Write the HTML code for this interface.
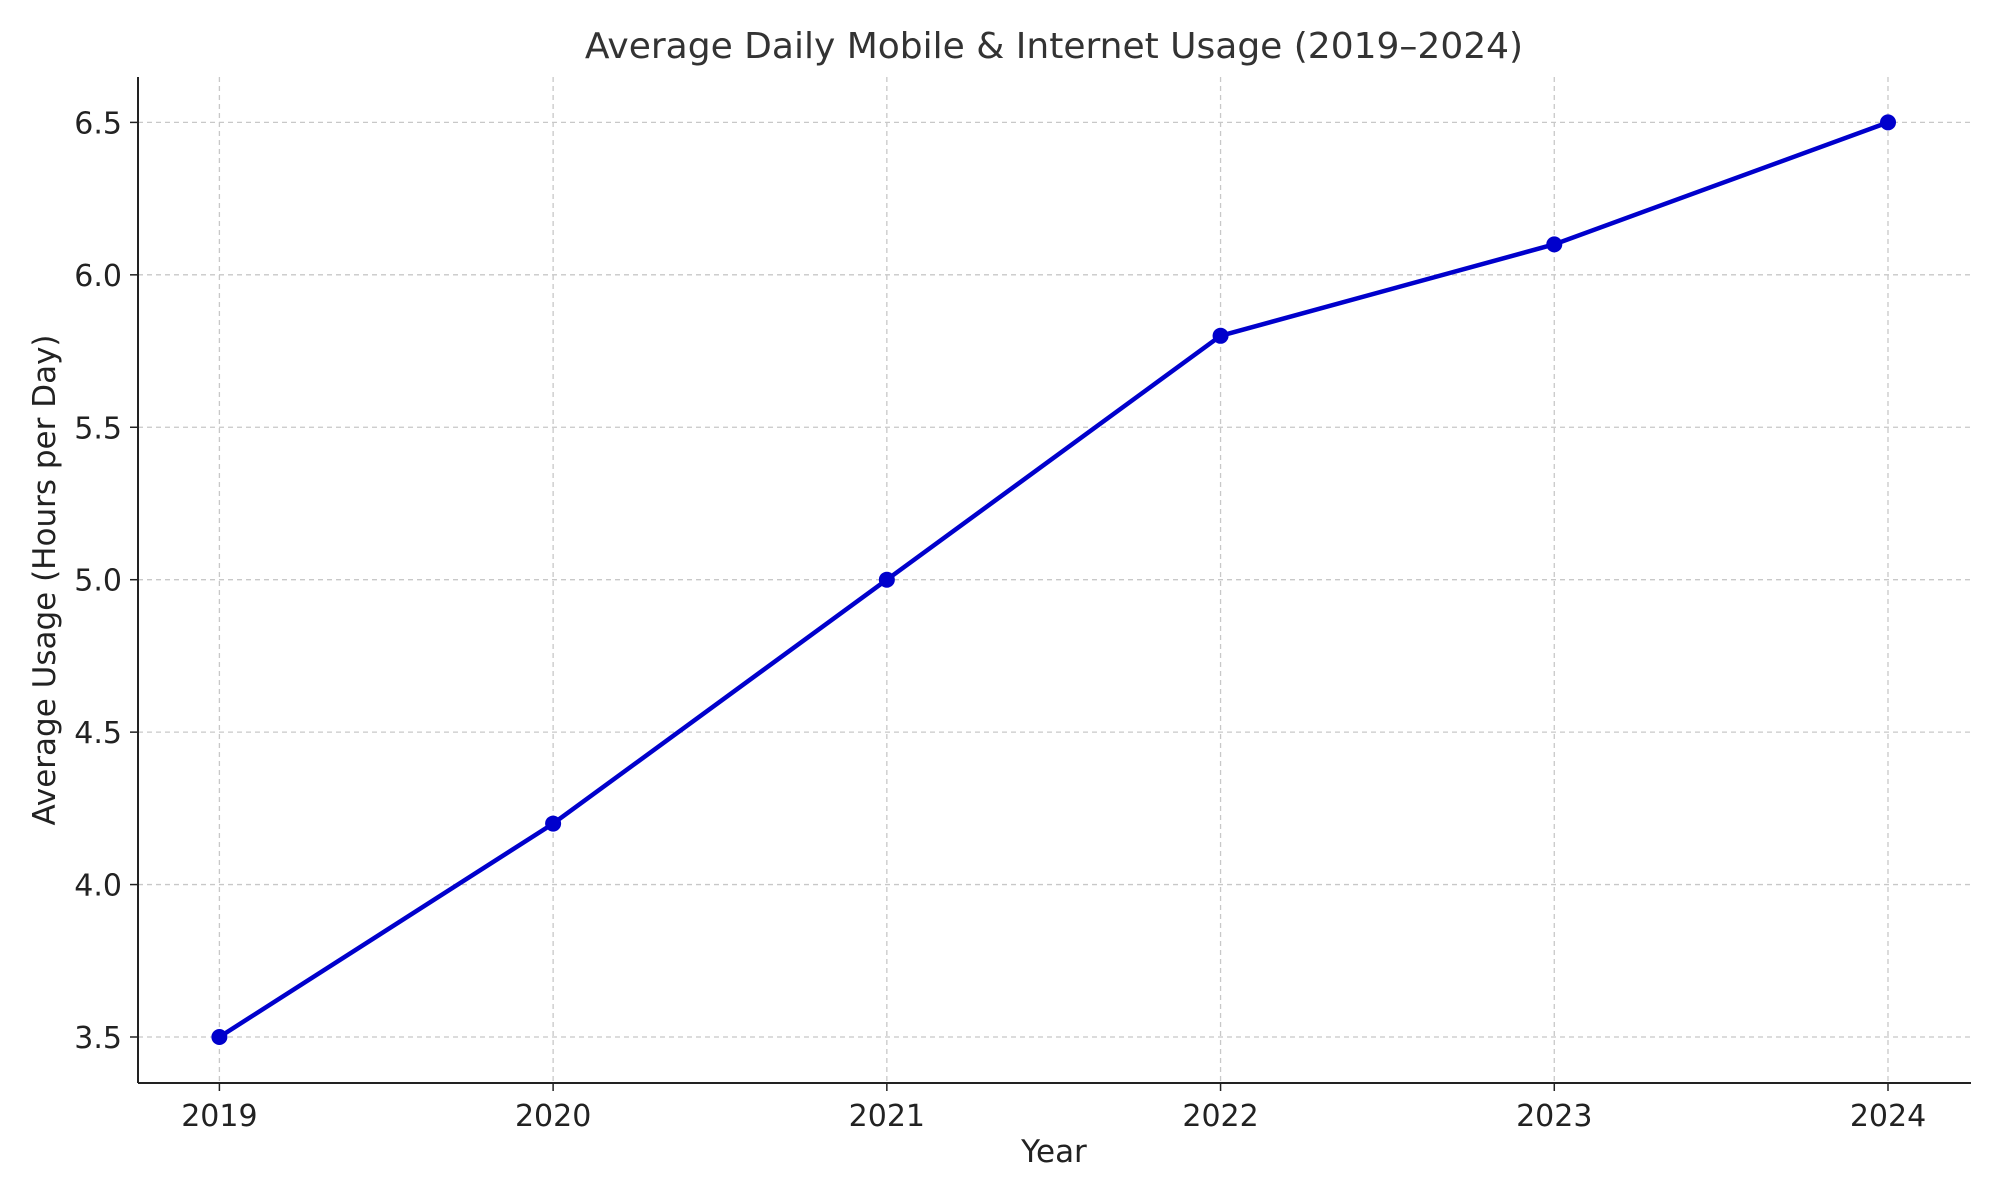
<!DOCTYPE html>
<html>
<head>
<meta charset="utf-8">
<style>
  html,body{margin:0;padding:0;background:#fff;}
  svg{display:block;font-family:"DejaVu Sans","Liberation Sans",sans-serif;}
</style>
</head>
<body>
<svg id="chart" width="2000" height="1200" viewBox="0 0 2000 1200" xmlns="http://www.w3.org/2000/svg">
  <rect width="2000" height="1200" fill="#fff"/>
  <g id="grid"></g>
  <g id="axes"></g>
  <g id="series"></g>
  <text x="1054" y="58" text-anchor="middle" font-size="36" fill="#333">Average Daily Mobile &amp; Internet Usage (2019–2024)</text>
  <text x="1054" y="1162" text-anchor="middle" font-size="31" fill="#222">Year</text>
  <text transform="translate(55,580) rotate(-90)" text-anchor="middle" font-size="31" fill="#222">Average Usage (Hours per Day)</text>
</svg>
<script>
const years = [2019, 2020, 2021, 2022, 2023, 2024];
const usage = [3.5, 4.2, 5.0, 5.8, 6.1, 6.5];
const yTicks = [3.5, 4.0, 4.5, 5.0, 5.5, 6.0, 6.5];
const yTickLabels = ["3.5", "4.0", "4.5", "5.0", "5.5", "6.0", "6.5"];

const NS = "http://www.w3.org/2000/svg";
const L = 138, R = 1971, T = 77, B = 1083;
const x0 = 219.4, x1 = 1888;
function xScale(v){ return x0 + (v - years[0]) / (years[years.length-1] - years[0]) * (x1 - x0); }
function yScale(v){ return 1037 - (v - 3.5) / 3.0 * (1037 - 122.4); }
function mk(tag, attrs, parent){
  const e = document.createElementNS(NS, tag);
  for (const k in attrs) e.setAttribute(k, attrs[k]);
  parent.appendChild(e);
  return e;
}
const grid = document.getElementById('grid');
const axes = document.getElementById('axes');
const series = document.getElementById('series');

years.forEach(function(yr){
  const x = xScale(yr);
  const g = mk('line', {x1:x, x2:x, y1:T, y2:B, stroke:'#c8c8c8', 'stroke-width':1.3, 'stroke-dasharray':'5,4'}, grid);
  
  
  const t = mk('line', {x1:x, x2:x, y1:B, y2:B+8, stroke:'#222', 'stroke-width':1.5}, axes);
  
  
  const lb = mk('text', {x:x, y:B+43, 'text-anchor':'middle', 'font-size':30, fill:'#222'}, axes);
  lb.textContent = String(yr);
  
  
});
yTicks.forEach(function(v, i){
  const y = yScale(v);
  const g = mk('line', {x1:L, x2:R, y1:y, y2:y, stroke:'#c8c8c8', 'stroke-width':1.3, 'stroke-dasharray':'5,4'}, grid);
  
  
  const t = mk('line', {x1:L-8, x2:L, y1:y, y2:y, stroke:'#222', 'stroke-width':1.5}, axes);
  
  
  const lb = mk('text', {x:L-16, y:y+11, 'text-anchor':'end', 'font-size':30, fill:'#222'}, axes);
  lb.textContent = yTickLabels[i];
  
  
});
const la = mk('line', {x1:L, x2:L, y1:T, y2:B, stroke:'#222', 'stroke-width':2}, axes);


const ba = mk('line', {x1:L, x2:R, y1:B, y2:B, stroke:'#222', 'stroke-width':2}, axes);



const pts = years.map(function(yr, i){ return xScale(yr) + ',' + yScale(usage[i]); }).join(' ');
const pl = mk('polyline', {points:pts, fill:'none', stroke:'#0000cc', 'stroke-width':4.5, 'stroke-linejoin':'round'}, series);


years.forEach(function(yr, i){
  const c = mk('circle', {cx:xScale(yr), cy:yScale(usage[i]), r:8, fill:'#0000cc'}, series);
  
  
});
</script>
</body>
</html>
